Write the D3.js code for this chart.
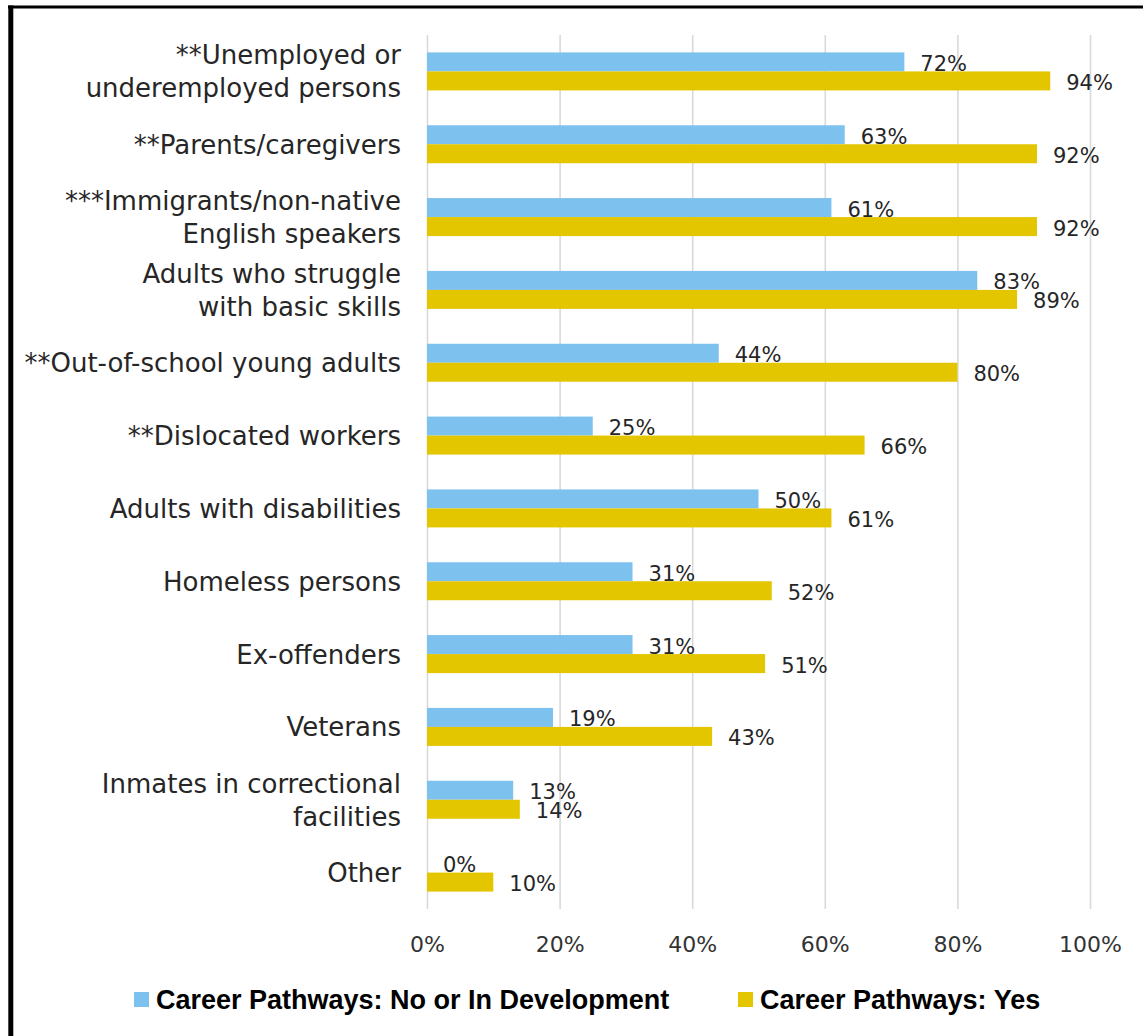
<!DOCTYPE html>
<html>
<head>
<meta charset="utf-8">
<script src="https://cdn.jsdelivr.net/npm/d3@7"></script>
<style>
  html, body { margin: 0; padding: 0; background: #ffffff; }
  svg { display: block; }
</style>
</head>
<body>
<svg id="chart" width="1143" height="1036"></svg>
<script>
// Target populations served, by career pathways status
const categories = [
  ["**Unemployed or", "underemployed persons"],
  ["**Parents/caregivers"],
  ["***Immigrants/non-native", "English speakers"],
  ["Adults who struggle", "with basic skills"],
  ["**Out-of-school young adults"],
  ["**Dislocated workers"],
  ["Adults with disabilities"],
  ["Homeless persons"],
  ["Ex-offenders"],
  ["Veterans"],
  ["Inmates in correctional", "facilities"],
  ["Other"]
];
const noValues  = [72, 63, 61, 83, 44, 25, 50, 31, 31, 19, 13, 0];
const yesValues = [94, 92, 92, 89, 80, 66, 61, 52, 51, 43, 14, 10];
const xTicks = [0, 20, 40, 60, 80, 100];
const seriesNames = ["Career Pathways: No or In Development", "Career Pathways: Yes"];
const seriesKeys = ["no", "yes"];
const colors = { no: "#7DC1EE", yes: "#E3C500" };

const svg = d3.select("#chart");
const W = 1143, H = 1036;
const plot = { left: 427, right: 1090, top: 35, bottom: 909 };

// frame lines
svg.append("line").attr("x1", 8).attr("x2", W).attr("y1", 7).attr("y2", 7)
  .attr("stroke", "#000").attr("stroke-width", 3);
svg.append("line").attr("x1", 10.8).attr("x2", 10.8).attr("y1", 5.5).attr("y2", H)
  .attr("stroke", "#000").attr("stroke-width", 5);

const labels = categories.map(c => c.join(" "));
const x = d3.scaleLinear().domain([0, 100]).range([plot.left, plot.right]);
const y = d3.scaleBand().domain(labels).range([plot.top, plot.bottom]).padding(0);
const ySub = d3.scaleBand().domain(seriesKeys).range([0, y.bandwidth()])
  .paddingInner(0).paddingOuter(0.9166);

// vertical gridlines + tick labels
const xAxis = d3.axisBottom(x).tickValues(xTicks).tickFormat(d => d + "%")
  .tickSize(-(plot.bottom - plot.top)).tickSizeOuter(0);
const gx = svg.append("g").attr("transform", `translate(0,${plot.bottom})`).call(xAxis);
gx.select(".domain").remove();
gx.selectAll(".tick line").attr("stroke", "#D9D9D9").attr("stroke-width", 1.6);
gx.selectAll(".tick text")
  .attr("y", 43).attr("dy", 0)
  .attr("fill", "#333333")
  .style("font-family", "'DejaVu Sans', sans-serif")
  .style("font-size", "22px");

// category labels
const catG = svg.append("g");
categories.forEach((lines, i) => {
  const cy = y(labels[i]) + y.bandwidth() / 2;
  const lh = 33;
  const first = cy + 9.5 - (lines.length - 1) * lh / 2;
  const t = catG.append("text")
    .attr("text-anchor", "end")
    .attr("fill", "#262626")
    .style("font-family", "'DejaVu Sans', sans-serif")
    .style("font-size", "26px");
  lines.forEach((ln, j) => {
    t.append("tspan").attr("x", 401).attr("y", first + j * lh).text(ln);
  });
});

// bars and value labels
const rows = labels.map((l, i) => ({ label: l, no: noValues[i], yes: yesValues[i] }));
seriesKeys.forEach(key => {
  const g = svg.append("g");
  g.selectAll("rect").data(rows).join("rect")
    .attr("x", x(0))
    .attr("y", d => y(d.label) + ySub(key))
    .attr("width", d => x(d[key]) - x(0))
    .attr("height", ySub.bandwidth())
    .attr("fill", colors[key]);
  g.selectAll("text").data(rows).join("text")
    .attr("x", d => x(d[key]) + 16)
    .attr("y", d => y(d.label) + ySub(key) + ySub.bandwidth() / 2 + 9)
    .attr("fill", "#262626")
    .style("font-family", "'DejaVu Sans', sans-serif")
    .style("font-size", "21px")
    .text(d => d[key] + "%");
});

// legend
const legendX = [134, 738];
seriesKeys.forEach((key, i) => {
  svg.append("rect").attr("x", legendX[i]).attr("y", 992)
    .attr("width", 15).attr("height", 15).attr("fill", colors[key]);
  svg.append("text").attr("x", legendX[i] + 22).attr("y", 1009)
    .attr("fill", "#000")
    .style("font-family", "'Liberation Sans', Arial, sans-serif")
    .style("font-weight", "bold")
    .style("font-size", "27px")
    .text(seriesNames[i]);
});
</script>
</body>
</html>
